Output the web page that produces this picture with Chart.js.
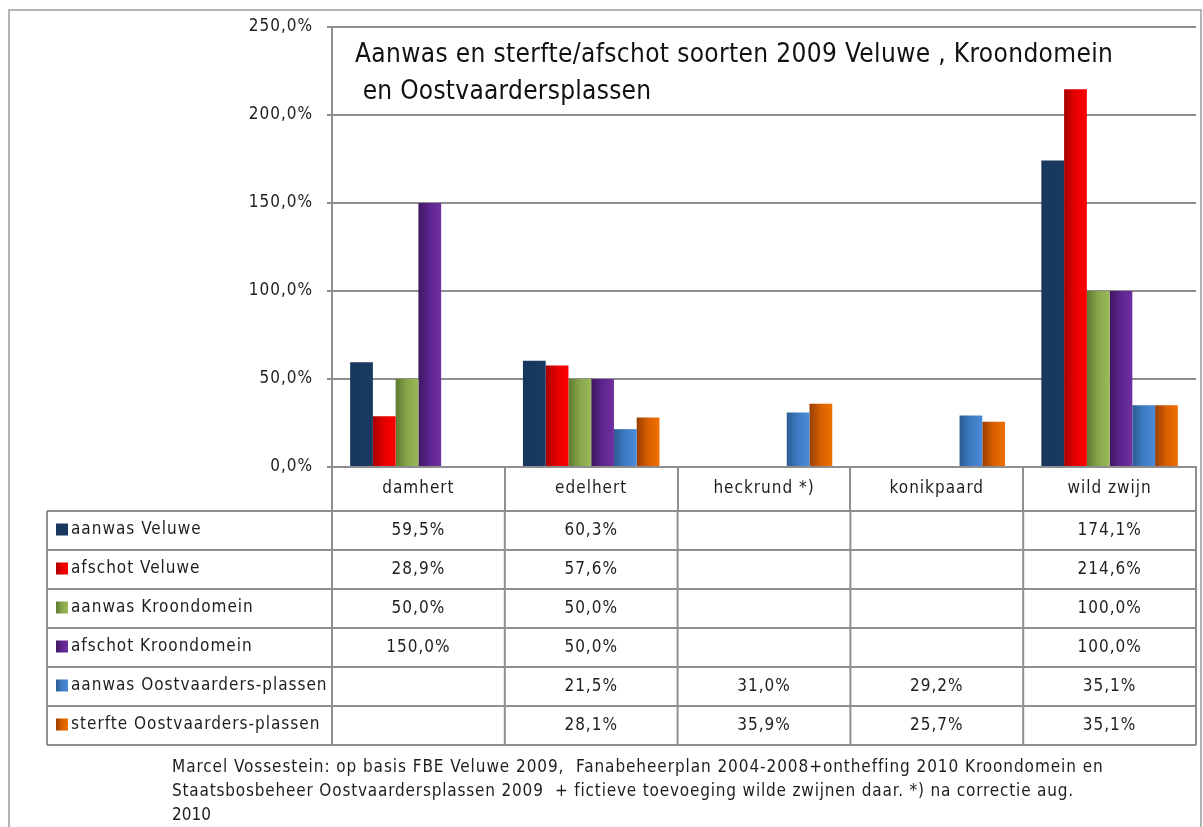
<!DOCTYPE html>
<html>
<head>
<meta charset="utf-8">
<script src="https://cdn.jsdelivr.net/npm/chart.js@4/dist/chart.umd.min.js"></script>
<style>
  html, body { margin: 0; padding: 0; background: #fff; }
  #wrap { width: 1203px; height: 827px; }
</style>
</head>
<body>
<div id="wrap"><canvas id="chart" width="1203" height="827"></canvas></div>
<script>
// categories and series
const categories = ['damhert', 'edelhert', 'heckrund *)', 'konikpaard', 'wild zwijn'];
const aanwasVeluwe = [59.5, 60.3, null, null, 174.1];
const afschotVeluwe = [28.9, 57.6, null, null, 214.6];
const aanwasKroondomein = [50.0, 50.0, null, null, 100.0];
const afschotKroondomein = [150.0, 50.0, null, null, 100.0];
const aanwasOostvaarders = [null, 21.5, 31.0, 29.2, 35.1];
const sterfteOostvaarders = [null, 28.1, 35.9, 25.7, 35.1];
const yTicks = [0, 50, 100, 150, 200, 250];

const seriesNames = ['aanwas Veluwe', 'afschot Veluwe', 'aanwas Kroondomein',
  'afschot Kroondomein', 'aanwas Oostvaarders-plassen', 'sterfte Oostvaarders-plassen'];
const seriesData = [aanwasVeluwe, afschotVeluwe, aanwasKroondomein,
  afschotKroondomein, aanwasOostvaarders, sterfteOostvaarders];

const titleLines = ['Aanwas en sterfte/afschot soorten 2009 Veluwe , Kroondomein', ' en Oostvaardersplassen'];
const footLines = [
  'Marcel Vossestein: op basis FBE Veluwe 2009,  Fanabeheerplan 2004-2008+ontheffing 2010 Kroondomein en',
  'Staatsbosbeheer Oostvaardersplassen 2009  + fictieve toevoeging wilde zwijnen daar. *) na correctie aug.',
  '2010'
];

// left -> right gradient stops per series (excel 2007 look)
const gradStops = [
  ['#17365d', '#1b3a62'],
  ['#a80000', '#e60000', '#ff0000'],
  ['#5c7830', '#86a64a', '#9bbb59'],
  ['#3e1860', '#5e2590', '#7030a0'],
  ['#2b5c93', '#3f7cc4', '#4a8ad8'],
  ['#983e00', '#d86000', '#f07000']
];

const FONT = "'Liberation Sans Narrow', 'DejaVu Sans Condensed', 'Arial Narrow', sans-serif";
const TEXT = '#1e1e1e';
const LINE = '#8e8e8e';
const CAT_PCT = 0.79;

function makeGrad(ctx, left, width, i) {
  const g = ctx.createLinearGradient(left, 0, left + width, 0);
  const s = gradStops[i];
  s.forEach((c, k) => g.addColorStop(k / (s.length - 1), c));
  return g;
}

function barColor(c) {
  const chart = c.chart;
  const x = chart.scales.x;
  if (c.type !== 'data' || !x || !chart.chartArea) return gradStops[c.datasetIndex][0];
  const catW = x.width / categories.length;
  const groupW = catW * CAT_PCT;
  const barW = groupW / seriesData.length;
  const left = x.getPixelForValue(c.dataIndex) - groupW / 2 + c.datasetIndex * barW;
  return makeGrad(chart.ctx, left, barW, c.datasetIndex);
}

function fitText(ctx, str, x, y, target) {
  // spread letters a bit so the line gets the same width as the reference
  ctx.letterSpacing = '0px';
  const w = ctx.measureText(str).width;
  const sp = target ? (target - w) / Math.max(1, str.length - 1) : 0;
  ctx.letterSpacing = sp.toFixed(2) + 'px';
  ctx.fillText(str, x, y);
  ctx.letterSpacing = '0px';
}

const spacing = {
  id: 'spacing',
  beforeDraw(chart) { chart.ctx.letterSpacing = '1px'; },
  afterDraw(chart) { chart.ctx.letterSpacing = '0px'; }
};

const extras = {
  id: 'extras',
  afterDraw(chart) {
    const ctx = chart.ctx;
    const x = chart.scales.x;
    const catW = x.width / categories.length;
    const top = 511, rowH = 39, tLeft = 47;
    ctx.save();
    ctx.letterSpacing = '0px';

    // outer chart border
    ctx.strokeStyle = '#9a9a9a';
    ctx.lineWidth = 1.5;
    ctx.strokeRect(9, 10, 1192, 840);

    // data table grid
    ctx.strokeStyle = LINE;
    ctx.lineWidth = 2;
    ctx.beginPath();
    for (let r = 0; r <= seriesData.length; r++) {
      ctx.moveTo(tLeft, top + r * rowH);
      ctx.lineTo(x.right, top + r * rowH);
    }
    ctx.moveTo(tLeft, top);
    ctx.lineTo(tLeft, top + seriesData.length * rowH);
    for (let k = 0; k <= categories.length; k++) {
      const bx = x.left + k * catW;
      ctx.moveTo(bx, top);
      ctx.lineTo(bx, top + seriesData.length * rowH);
    }
    ctx.stroke();

    // legend keys, names and values
    ctx.textBaseline = 'middle';
    ctx.fillStyle = TEXT;
    ctx.font = '17px ' + FONT;
    seriesData.forEach((vals, i) => {
      const cy = top + i * rowH + rowH / 2;
      ctx.fillStyle = makeGrad(ctx, 56, 12, i);
      ctx.fillRect(56, cy - 7, 12, 12);
      ctx.fillStyle = TEXT;
      ctx.textAlign = 'left';
      ctx.letterSpacing = '1px';
      ctx.fillText(seriesNames[i], 71, cy - 1);
      ctx.textAlign = 'center';
      vals.forEach((v, j) => {
        if (v === null) return;
        ctx.fillText(v.toFixed(1).replace('.', ',') + '%', x.getPixelForValue(j), cy);
      });
    });
    ctx.letterSpacing = '0px';

    // title inside the plot area
    ctx.textAlign = 'left';
    ctx.fillStyle = '#111';
    ctx.font = '26px ' + FONT;
    fitText(ctx, titleLines[0], 355, 55, 758);
    fitText(ctx, titleLines[1], 355, 92, 296);

    // footnote
    ctx.font = '17px ' + FONT;
    ctx.fillStyle = TEXT;
    fitText(ctx, footLines[0], 172, 768, 930);
    fitText(ctx, footLines[1], 172, 792, 901);
    fitText(ctx, footLines[2], 172, 816, 0);
    ctx.restore();
  }
};

new Chart(document.getElementById('chart'), {
  type: 'bar',
  data: {
    labels: categories,
    datasets: seriesData.map((d, i) => ({
      label: seriesNames[i],
      data: d,
      backgroundColor: barColor,
      borderWidth: 0,
      categoryPercentage: CAT_PCT,
      barPercentage: 1
    }))
  },
  options: {
    responsive: false,
    devicePixelRatio: 1,
    animation: false,
    layout: { padding: { left: 0, top: 27, right: 7, bottom: 0 } },
    plugins: {
      legend: { display: false },
      tooltip: { enabled: false }
    },
    scales: {
      y: {
        min: 0,
        max: 250,
        afterFit(s) { s.width = 332; },
        afterBuildTicks(s) { s.ticks = yTicks.map(v => ({ value: v })); },
        ticks: {
          padding: 14,
          color: TEXT,
          font: { family: FONT, size: 17 },
          callback: v => v.toFixed(1).replace('.', ',') + '%'
        },
        grid: { color: LINE, lineWidth: 2, tickLength: 5 },
        border: { color: LINE, width: 2 }
      },
      x: {
        offset: true,
        afterFit(s) { s.height = 360; },
        ticks: {
          padding: -33,
          color: TEXT,
          autoSkip: false,
          maxRotation: 0,
          font: { family: FONT, size: 17 }
        },
        grid: { color: LINE, lineWidth: 2, drawOnChartArea: false, tickLength: 44, offset: true },
        border: { color: LINE, width: 2 }
      }
    }
  },
  plugins: [spacing, extras]
});
</script>
</body>
</html>
